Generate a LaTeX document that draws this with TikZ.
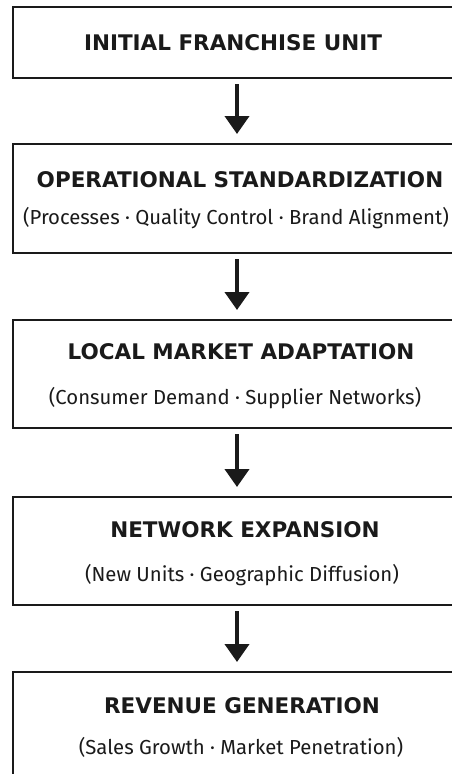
\documentclass[tikz,border=0pt]{standalone}
\usepackage{fontspec}
\setmainfont{Fira Sans}
\newfontfamily\headfont{DejaVu Sans}
\usetikzlibrary{arrows.meta}
\definecolor{ink}{HTML}{1A1A1A}
\begin{document}
\begin{tikzpicture}[x=1pt,y=-1pt,
  stage/.style={draw=ink, line width=2pt, minimum width=448pt, inner sep=0pt, fill=white},
  title/.style={font=\headfont\bfseries\fontsize{21.5}{25}\selectfont, text=ink, inner sep=0pt},
  sub/.style={font=\fontsize{20.3}{24}\selectfont, text=ink, inner sep=0pt},
  flow/.style={draw=ink, line width=4pt, -{Triangle[width=24pt,length=18pt]},
    shorten <=5pt, shorten >=9pt}]
\useasboundingbox (0,0) rectangle (451,774);
% stage boxes (they run past the right and bottom edges)
\node[stage, minimum height=71pt]  (b1) at (237,42.5)  {};
\node[stage, minimum height=109pt] (b2) at (237,198.5) {};
\node[stage, minimum height=108pt] (b3) at (237,374)   {};
\node[stage, minimum height=108pt] (b4) at (237,551)   {};
\node[stage, minimum height=108pt] (b5) at (237,726)   {};
% labels
\node[title] (t1) at (233,43)  {INITIAL FRANCHISE UNIT};
\node[title] (t2) at (240,180) {OPERATIONAL STANDARDIZATION};
\node[sub]   (s2) at (236,218) {(Processes · Quality Control · Brand Alignment)};
\node[title] (t3) at (241,352) {LOCAL MARKET ADAPTATION};
\node[sub]   (s3) at (235,398) {(Consumer Demand · Supplier Networks)};
\node[title] (t4) at (245,530) {NETWORK EXPANSION};
\node[sub]   (s4) at (242,575) {(New Units · Geographic Diffusion)};
\node[title] (t5) at (242,706) {REVENUE GENERATION};
\node[sub]   (s5) at (241,747) {(Sales Growth · Market Penetration)};
% connectors
\draw[flow] (b1.south) -- (b2.north);
\draw[flow] (b2.south) -- (b3.north);
\draw[flow] (b3.south) -- (b4.north);
\draw[flow] (b4.south) -- (b5.north);
\end{tikzpicture}
\end{document}
